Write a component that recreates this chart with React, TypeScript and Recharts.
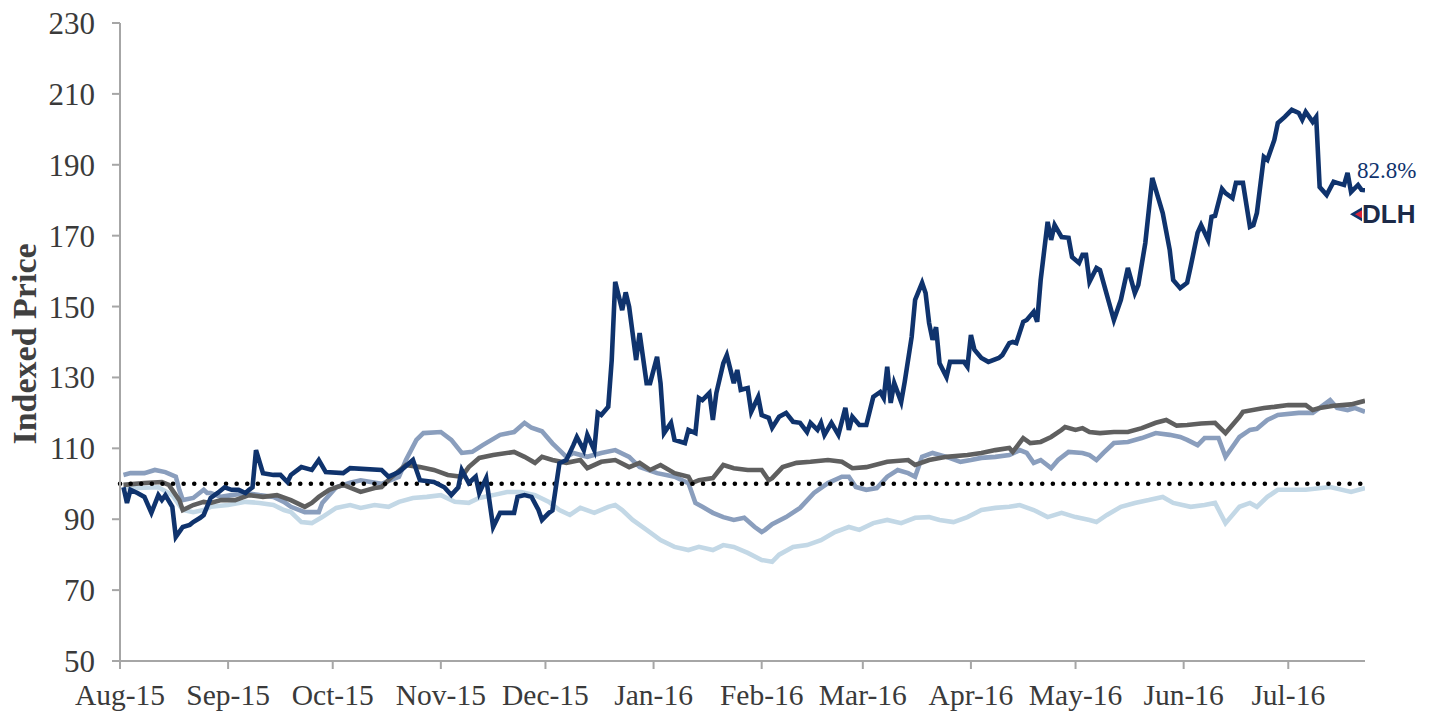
import React from 'react';
import { LineChart, Line, XAxis, YAxis, ReferenceLine, LabelList } from 'recharts';

// x values: days since 1 Aug 2015
const monthTicks = [0, 31, 61, 92, 122, 153, 184, 213, 244, 274, 305, 335];
const monthLabels = ['Aug-15', 'Sep-15', 'Oct-15', 'Nov-15', 'Dec-15', 'Jan-16', 'Feb-16', 'Mar-16', 'Apr-16', 'May-16', 'Jun-16', 'Jul-16'];
const yTicks = [50, 70, 90, 110, 130, 150, 170, 190, 210, 230];
const baseline = 100;

const grayDays = [1,7,12,14,17,18,21,24,26,29,33,37,41,45,49,53,55,57,60,64,69,73,75,78,82,86,90,94,98,100,103,107,113,116,119,121,124,128,132,134,138,142,146,149,152,155,159,163,164,166,170,173,176,180,184,186,187,190,194,198,203,207,210,214,220,226,228,232,237,243,247,251,255,256,259,261,264,267,270,271,274,276,278,281,285,289,293,297,300,303,306,310,314,317,321,322,328,331,335,340,342,344,348,353,357];
const grayValues = [99.7,100.2,100.5,99.7,95.4,92.6,94,94.9,94.6,95.4,95.4,96.8,96.3,96.8,95.4,93.5,94.6,96.3,98.3,99.7,97.7,98.8,99.1,102,105.3,104.7,103.9,102.5,102,104.7,107.3,108.1,109,107.6,105.9,107.6,106.7,105.9,106.7,104.4,106.2,106.7,104.7,105.9,103.9,105.3,103,102,100.2,101,101.6,105.3,104.4,103.9,103.9,101,101.6,104.7,105.9,106.2,106.7,106.2,104.4,104.7,106.2,106.7,105.3,106.7,107.6,108.1,108.7,109.5,110.1,109,112.9,111.5,111.8,113.2,115.2,116,115.2,115.7,114.6,114.3,114.6,114.6,115.7,117.2,118,116.4,116.6,117,117.2,114.3,118.9,120.3,121.4,121.7,122.2,122.2,120.8,121.4,122,122.4,123.4];

const midDays = [1,3,7,10,13,16,17,18,21,24,25,26,29,32,36,40,44,47,49,53,57,58,62,66,69,75,80,82,85,87,92,95,98,101,104,109,113,116,118,121,124,126,128,130,134,138,142,146,149,154,159,163,165,167,170,173,176,179,182,184,185,187,191,195,199,203,207,209,211,214,217,220,223,226,228,230,233,237,241,244,247,251,255,258,260,262,264,267,269,272,276,278,280,282,285,289,293,297,301,304,306,309,311,315,317,321,324,326,329,332,338,342,344,347,349,352,354,357];
const midValues = [102.5,103,103,103.9,103.3,102,98.3,95.4,96,98.3,97.4,97.4,96.3,96.8,97.4,96.8,96.3,94.9,93.5,92,92,94.6,99,100.3,101,100,102,106.7,112.4,114.3,114.6,112.4,108.7,109,110.9,113.8,114.6,117.2,115.8,114.8,111.4,109.5,107.6,108.7,107.6,108.7,109.5,107.6,104.7,103,102,100.2,94.6,93.5,91.8,90.6,89.8,90.4,87.8,86.4,87,88.6,90.6,93.2,97.4,100.2,102,102,99.1,98.3,98.8,102,103.9,103,102,107.6,108.7,107.6,106.2,106.7,107.3,107.6,108.1,109.5,108.7,105.9,106.7,104.4,106.7,109,108.7,108.1,106.7,108.7,111.5,111.8,112.9,114.3,113.8,113.2,112.4,110.9,112.9,112.9,107.6,113.2,115.2,115.5,118,119.4,120,120,121.4,123.6,121.4,120.8,121.4,120.3];

const lightDays = [1,5,11,15,18,21,24,26,31,36,40,44,47,49,52,55,58,62,66,69,73,77,80,84,88,92,96,100,103,107,111,115,119,123,126,129,132,136,140,142,144,147,151,155,159,163,166,170,173,176,180,184,187,189,193,197,201,205,209,212,216,220,224,228,232,235,239,243,247,251,255,258,262,266,270,274,278,280,283,287,291,295,299,302,307,311,314,317,321,324,326,329,332,340,347,353,357];
const lightValues = [99,98.8,99,96.8,92.6,92,92.6,93.5,94,94.9,94.6,94,92.6,92,89.2,88.9,90.6,93.2,94,93.2,94,93.5,94.9,96,96.3,96.8,94.9,94.6,96,96.8,97.7,97.7,96.8,94.9,92.6,91.2,93.2,91.8,93.5,94,92.6,89.8,87,84.1,82.2,81.3,82.2,81.3,82.7,82.2,80.5,78.5,78,80,82.2,82.7,84.1,86.4,87.8,87,88.9,89.8,88.9,90.4,90.6,89.8,89.2,90.6,92.6,93.2,93.5,94,92.6,90.6,91.8,90.6,89.8,89.2,91.2,93.5,94.6,95.4,96.3,94.6,93.5,94,94.6,88.9,93.5,94.6,93.5,96.3,98.3,98.3,99.1,97.7,98.8];

const dlhDays = [1,2,3,5,7,9,11,12,13,15,16,18,20,21,23,24,26,28,30,32,34,36,37,38,39,41,44,46,48,49,52,55,57,59,64,66,75,77,80,84,86,90,93,95,97,98,100,102,103,105,107,109,113,114,116,118,120,121,123,124,126,128,130,131,133,134,136,137,138,140,141,142,144,145,146,148,149,151,152,154,155,156,158,159,162,163,165,166,167,169,170,171,173,174,176,177,178,180,181,183,184,186,187,189,191,193,195,197,198,200,201,202,204,206,208,209,210,212,214,216,218,219,220,221,222,224,225,227,228,230,231,232,233,234,235,237,238,242,243,244,245,247,249,252,253,255,256,257,259,260,262,263,264,266,267,268,270,272,273,275,276,277,278,280,281,285,287,289,291,292,294,296,299,301,302,304,306,307,309,310,312,313,314,316,317,319,320,322,324,325,326,328,329,331,332,334,336,338,339,340,342,343,344,346,348,349,351,352,353,355,356,357];
const dlhValues = [99,94.6,98.3,97.4,96.3,91.8,96.8,95.4,96.8,93.5,85,87.8,88.4,89.2,90.4,91.2,96,97.4,99,98.3,98.3,97.4,98.3,99,109.5,103,102.5,102.5,100.5,102.5,104.7,103.9,106.7,103.3,103,104.4,103.9,102,103.3,106.7,101,100.5,99,96.8,99,103.9,100.2,102,97.4,101.6,87.8,91.8,91.8,96.3,96.8,96.3,92.6,89.8,91.8,92.5,105.8,106.7,110.9,113.2,109.5,113.8,109.5,120,119.4,121.7,134.9,157,149,154,149.9,134.9,142.5,128.4,128.4,135.8,128.4,114.3,117.2,112.4,111.5,115.2,114.3,124.2,123.6,125.6,118,125.6,134,136.3,128.4,132.1,126.5,127,120.3,124.5,119.4,118.6,115.8,118.9,120,117.5,117.2,114.6,117.2,115.2,117.2,113.8,117.2,113.8,121.4,115.2,118.9,116.6,116.6,124.5,125.9,124.2,133,122.8,128.4,123.1,128.7,141.4,151.9,156.7,153.8,145.4,140.6,144.2,134,130.1,134.4,134.4,133,142,137.8,135.5,134.4,135.5,136.3,139.7,140,139.7,145.7,146.2,148.5,145.7,157.5,173.9,168.8,173,169.6,169.4,164,162.3,164.6,164.6,157,160.9,160.3,146.2,151.9,160.9,153.8,156.1,167.9,186.3,176.4,166,157.5,155.2,156.7,161.2,170.8,173,168.8,175.3,175.6,183.2,182,180.6,184.9,184.9,172.5,173,176.4,192.2,191.4,197,201.8,203.5,205.5,204.6,202.7,204.9,202.1,203.5,183.7,181.5,185.2,184.9,184.3,187.7,182.3,184.3,182.9,182.8];

const toRows = (days: number[], values: number[]) => days.map((day, i) => ({ day, value: values[i] }));
const dlhRows = toRows(dlhDays, dlhValues);
const grayRows = toRows(grayDays, grayValues);
const midRows = toRows(midDays, midValues);
const lightRows = toRows(lightDays, lightValues);

const NAVY = '#0f336d';
const SERIF = '"Liberation Serif", "DejaVu Serif", serif';
const AXIS = '#a6a6a6';
const LW = 4.6;

const monthLabel = (d: number) => monthLabels[monthTicks.indexOf(d)] ?? '';

const EndLabel = (props: any) => {
  const { x, y, index, value } = props;
  if (index !== dlhRows.length - 1) return null;
  const pct = `${(value - baseline).toFixed(1)}%`;
  const lx = x - 15;
  const ly = y + 33;
  return (
    <g>
      <text x={x - 8} y={y - 12} fill={NAVY} fontFamily={SERIF} fontSize={23}>{pct}</text>
      <polygon points={`${lx},${ly - 9} ${lx + 12},${ly - 16} ${lx + 12},${ly - 2}`} fill={NAVY} />
      <polygon points={`${lx + 5},${ly - 9} ${lx + 12},${ly - 13} ${lx + 12},${ly - 5}`} fill="#d8243a" />
      <text x={lx + 12} y={ly} fill="#1c2a48" fontFamily='"Liberation Sans", Arial, sans-serif' fontWeight="bold" fontSize={26}>DLH</text>
    </g>
  );
};

const YLabel = (props: any) => {
  const { viewBox } = props;
  const cx = viewBox.x + 24;
  const cy = viewBox.y + viewBox.height / 2 + 2;
  return (
    <text x={cx} y={cy} transform={`rotate(-90 ${cx} ${cy})`} textAnchor="middle" dominantBaseline="central"
      fontFamily={SERIF} fontWeight="bold" fontSize={34} fill="#404040">Indexed Price</text>
  );
};

export default function App() {
  return (
    <div style={{ position: 'absolute', left: 0, top: 0, background: '#fff' }}>
      <LineChart width={1438} height={722} margin={{ top: 23, right: 73, bottom: 0, left: 0 }}>
        <XAxis
          type="number"
          dataKey="day"
          domain={[0, 357]}
          ticks={monthTicks}
          interval={0}
          tickFormatter={monthLabel}
          height={61}
          tickSize={8}
          tickMargin={15}
          axisLine={{ stroke: AXIS, strokeWidth: 2 }}
          tickLine={{ stroke: AXIS, strokeWidth: 2 }}
          tick={{ fontFamily: SERIF, fontSize: 29.5, fill: '#3a3a3a' }}
          allowDataOverflow
        />
        <YAxis
          type="number"
          domain={[50, 230]}
          ticks={yTicks}
          interval={0}
          width={120}
          tickSize={8}
          tickMargin={17}
          axisLine={{ stroke: AXIS, strokeWidth: 2 }}
          tickLine={{ stroke: AXIS, strokeWidth: 2 }}
          tick={{ fontFamily: SERIF, fontSize: 31, fill: '#3a3a3a' }}
          label={<YLabel />}
        />
        <Line data={lightRows} dataKey="value" type="linear" stroke="#c3d8e6" strokeWidth={LW} dot={false} activeDot={false} isAnimationActive={false} />
        <Line data={midRows} dataKey="value" type="linear" stroke="#8a9ebd" strokeWidth={LW} dot={false} activeDot={false} isAnimationActive={false} />
        <Line data={grayRows} dataKey="value" type="linear" stroke="#5f5f5f" strokeWidth={LW} dot={false} activeDot={false} isAnimationActive={false} />
        <ReferenceLine y={baseline} stroke="#000" strokeWidth={4.5} strokeDasharray="0.1 10.5" strokeLinecap="round" />
        <Line data={dlhRows} dataKey="value" type="linear" stroke={NAVY} strokeWidth={LW} dot={false} activeDot={false} isAnimationActive={false}>
          <LabelList dataKey="value" content={<EndLabel />} />
        </Line>
      </LineChart>
    </div>
  );
}
